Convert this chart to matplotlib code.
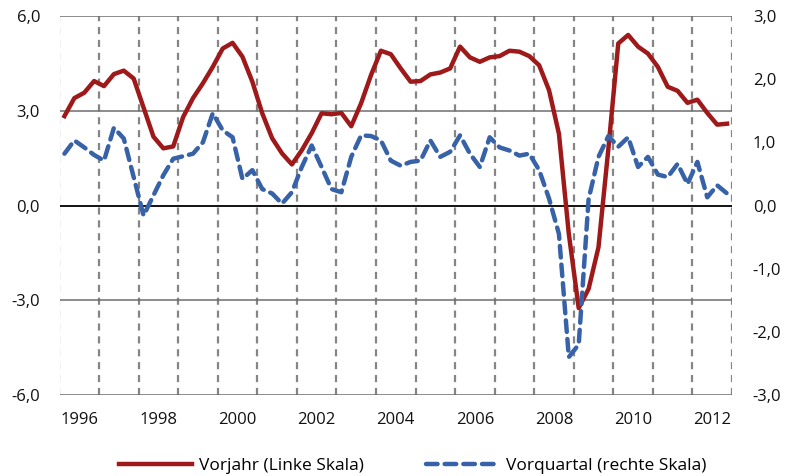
import matplotlib
matplotlib.use('Agg')
import matplotlib.pyplot as plt
import numpy as np

# Quarterly values 1996Q1 - 2012Q4
years = list(range(1996, 2013))
vorjahr = [2.83, 3.40, 3.57, 3.94,
           3.78, 4.16, 4.27, 4.02,
           3.10, 2.18, 1.81, 1.87,
           2.80, 3.40, 3.87, 4.39,
           4.97, 5.15, 4.71, 3.92,
           2.92, 2.13, 1.65, 1.30,
           1.75, 2.29, 2.92, 2.89,
           2.93, 2.51, 3.24, 4.13,
           4.90, 4.79, 4.34, 3.92,
           3.94, 4.15, 4.21, 4.34,
           5.03, 4.69, 4.55, 4.69,
           4.73, 4.90, 4.87, 4.73,
           4.44, 3.65, 2.27, -0.90,
           -3.25, -2.64, -1.32, 1.80,
           5.13, 5.40, 5.03, 4.81,
           4.39, 3.76, 3.63, 3.25,
           3.35, 2.93, 2.56, 2.59]
vorquartal = [0.82, 1.03, 0.92, 0.80,
              0.71, 1.23, 1.06, 0.45,
              -0.16, 0.16, 0.48, 0.74,
              0.78, 0.82, 1.00, 1.46,
              1.19, 1.08, 0.42, 0.56,
              0.26, 0.19, 0.03, 0.21,
              0.61, 0.95, 0.61, 0.26,
              0.21, 0.77, 1.11, 1.10,
              1.03, 0.71, 0.63, 0.69,
              0.71, 1.03, 0.77, 0.85,
              1.11, 0.82, 0.61, 1.08,
              0.92, 0.87, 0.79, 0.82,
              0.56, 0.11, -0.45, -2.40,
              -2.20, 0.10, 0.77, 1.10,
              0.93, 1.08, 0.61, 0.77,
              0.49, 0.45, 0.66, 0.34,
              0.69, 0.13, 0.32, 0.19]
left_ticks = [-6, -3, 0, 3, 6]
right_ticks = [-3, -2, -1, 0, 1, 2, 3]

red = '#9e1a1a'
blue = '#3762a8'
grid_gray = '#858585'

plt.rcParams['font.family'] = ['Open Sans', 'DejaVu Sans']

fig = plt.figure(figsize=(7.88, 4.76), dpi=100)
ax = fig.add_axes([59.5 / 788, 1 - 395 / 476, (732 - 59.5) / 788, (395 - 16) / 476])
ax2 = ax.twinx()

x = np.arange(len(vorjahr))
n_years = len(years)

# vertical dashed lines at year boundaries
for k in range(n_years + 1):
    ax.axvline(k * 4 - 0.5, color=grid_gray, lw=1.6, ls=(0, (3.2, 2.6)), zorder=1)
# horizontal grid
for v in left_ticks:
    ax.axhline(v, color='black' if v == 0 else '#6e6e6e', lw=1.3 if v == 0 else 1.1, zorder=1)

l1, = ax.plot(x, vorjahr, color=red, lw=3.2, solid_joinstyle='round', zorder=3)
l2, = ax2.plot(x, vorquartal, color=blue, lw=3.2, ls=(0, (2.6, 1.6)),
               dash_capstyle='round', zorder=3)

ax.set_xlim(-0.5, len(vorjahr) - 0.5)
ax.set_ylim(-6, 6)
ax2.set_ylim(-3, 3)

ax.set_yticks(left_ticks)
ax.set_yticklabels([f'{v:.1f}'.replace('.', ',') for v in left_ticks])
ax2.set_yticks(right_ticks)
ax2.set_yticklabels([f'{v:.1f}'.replace('.', ',') for v in right_ticks])

label_pos = [k * 4 + 1.5 for k in range(0, n_years, 2)]
ax.set_xticks(label_pos)
ax.set_xticklabels([str(years[k]) for k in range(0, n_years, 2)])

for a in (ax, ax2):
    for s in a.spines.values():
        s.set_visible(False)
    a.tick_params(length=0, labelsize=12, colors='#111111')
ax.tick_params(axis='y', pad=14)
ax2.tick_params(axis='y', pad=15)
ax.tick_params(axis='x', pad=12)

fig.legend([l1, l2], ['Vorjahr (Linke Skala)', 'Vorquartal (rechte Skala)'],
           loc='center', bbox_to_anchor=(0.524, 0.022), ncol=2, frameon=False,
           fontsize=12.5, handlelength=4.2, handletextpad=0.4, columnspacing=3.6)

fig.savefig('out.png', dpi=100)
